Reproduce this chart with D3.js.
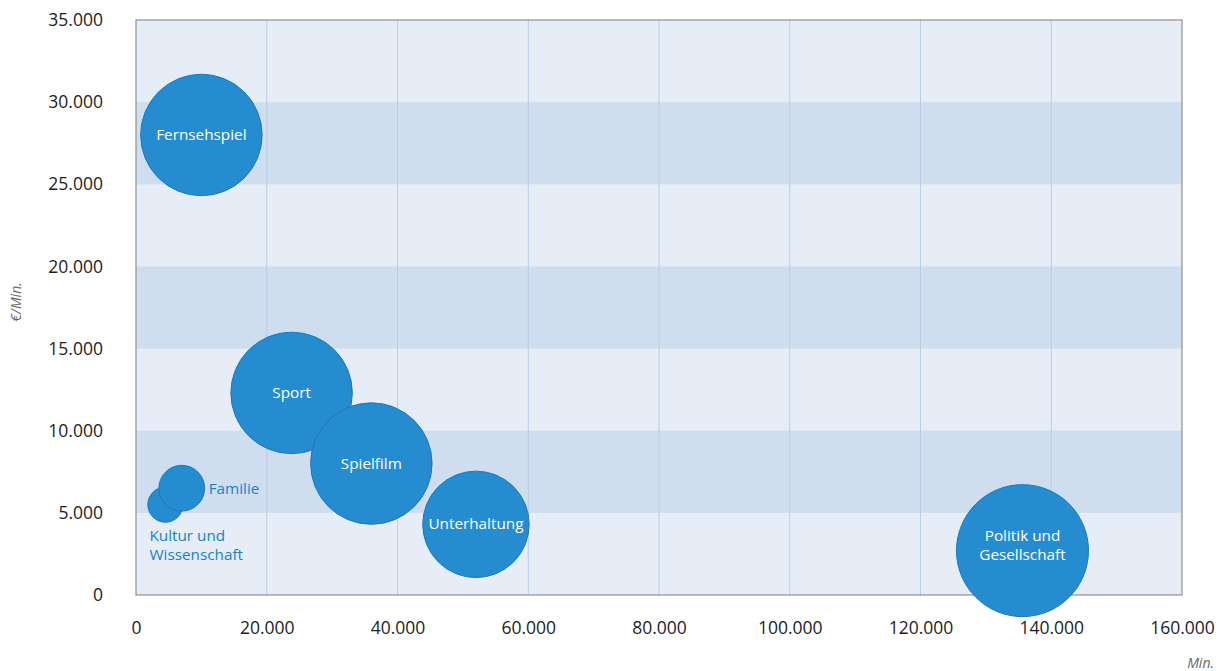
<!DOCTYPE html>
<html><head><meta charset="utf-8">
<script src="https://cdn.jsdelivr.net/npm/d3@7"></script>
<style>body{margin:0;background:#fff;} text{font-family:"Open Sans","Noto Sans",sans-serif;}</style>
</head><body>
<svg id="c" width="1228" height="671"></svg>
<script>
const categories = ["Fernsehspiel","Sport","Spielfilm","Unterhaltung","Politik und Gesellschaft","Kultur und Wissenschaft","Familie"];
const minutes = [10000, 23800, 36000, 52000, 135600, 4500, 7000];
const eurPerMin = [28000, 12300, 8000, 4300, 2700, 5500, 6500];
const totalMio = [310, 310, 310, 238, 366, 26, 44];
const xTicks = [0,20000,40000,60000,80000,100000,120000,140000,160000];
const yTicks = [0,5000,10000,15000,20000,25000,30000,35000];

const svg = d3.select("#c");
const L=136,R=1182,T=20,B=595;
const x = d3.scaleLinear().domain([0,160000]).range([L,R]);
const y = d3.scaleLinear().domain([0,35000]).range([B,T]);
const r = d3.scaleSqrt().domain([0,366]).range([0,66]);
const fmt = d => d3.format(",")(d).replace(/,/g,".");

// bands
svg.append("rect").attr("x",L).attr("y",T).attr("width",R-L).attr("height",B-T).attr("fill","#e6edf7");
for(let i=0;i<yTicks.length-1;i++){
  if(i%2===1){
    svg.append("rect").attr("x",L).attr("y",y(yTicks[i+1])).attr("width",R-L)
      .attr("height",y(yTicks[i])-y(yTicks[i+1])).attr("fill","#cfdeee");
  }
}
// vertical grid
svg.append("g").selectAll("line").data(xTicks.slice(1,-1)).join("line")
  .attr("x1",d=>x(d)).attr("x2",d=>x(d)).attr("y1",T).attr("y2",B)
  .attr("stroke","#b8cde6").attr("stroke-width",1);
// border
svg.append("rect").attr("x",L).attr("y",T).attr("width",R-L).attr("height",B-T)
  .attr("fill","none").attr("stroke","#8f8f8f").attr("stroke-width",1.2);

// axes
const xa = svg.append("g").attr("transform",`translate(0,${B})`)
  .call(d3.axisBottom(x).tickValues(xTicks).tickFormat(fmt).tickSize(0).tickPadding(27));
const ya = svg.append("g").attr("transform",`translate(${L},0)`)
  .call(d3.axisLeft(y).tickValues(yTicks).tickFormat(fmt).tickSize(0).tickPadding(33));
[xa,ya].forEach(a=>{a.select(".domain").remove();
  a.selectAll("text").attr("font-size",17.5).attr("fill","#1e1e1e").attr("font-family","'Open Sans','Noto Sans',sans-serif");});

// axis titles
svg.append("text").attr("transform","translate(21,302) rotate(-90)").attr("text-anchor","middle")
  .attr("font-size",14).attr("font-style","italic").attr("fill","#6a6a6a").text("€/Min.");
svg.append("text").attr("x",1214).attr("y",668).attr("text-anchor","end")
  .attr("font-size",14).attr("font-style","italic").attr("fill","#6a6a6a").text("Min.");

// bubbles
const data = categories.map((c,i)=>({c, x:minutes[i], y:eurPerMin[i], s:totalMio[i]}));
svg.append("g").selectAll("circle").data(data).join("circle")
  .attr("cx",d=>x(d.x)).attr("cy",d=>y(d.y)).attr("r",d=>r(d.s))
  .attr("fill","#258ccf").attr("stroke","#1a78bf").attr("stroke-width",1);

// labels
const inside = data.slice(0,5);
inside.forEach(d=>{
  const lines = d.c==="Politik und Gesellschaft" ? ["Politik und","Gesellschaft"] : [d.c];
  const t = svg.append("text").attr("text-anchor","middle").attr("fill","#fff").attr("font-size",15.3);
  const dy = lines.length>1 ? 0 : 5;
  lines.forEach((ln,k)=>{
    t.append("tspan").attr("x",x(d.x)).attr("y",y(d.y)+dy+(k-(lines.length-1)/2)*19).text(ln);
  });
});
const fam = data[6];
svg.append("text").attr("x",x(fam.x)+r(fam.s)+4).attr("y",y(fam.y)+6)
  .attr("fill","#1a7fcb").attr("font-size",15.3).text(fam.c);
const kul = data[5];
const kt = svg.append("text").attr("fill","#1a7fcb").attr("font-size",15.3);
kt.append("tspan").attr("x",x(kul.x)-16).attr("y",y(kul.y)+36).text("Kultur und");
kt.append("tspan").attr("x",x(kul.x)-16).attr("y",y(kul.y)+55).text("Wissenschaft");
</script>
</body></html>
